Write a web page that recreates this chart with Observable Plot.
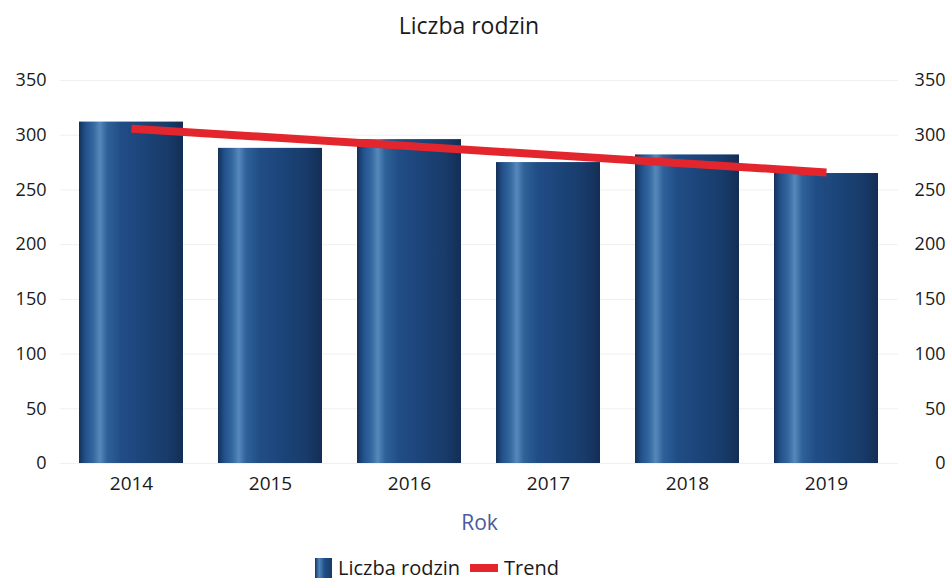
<!DOCTYPE html>
<html>
<head>
<meta charset="utf-8">
<script src="https://cdn.jsdelivr.net/npm/d3@7"></script>
<script src="https://cdn.jsdelivr.net/npm/@observablehq/plot@0.6"></script>
<style>
  html, body { margin: 0; padding: 0; background: #fff; }
  body { width: 950px; height: 582px; overflow: hidden; font-family: "Open Sans", sans-serif; }
  #title { height: 50px; line-height: 50px; text-align: center; font-size: 23px; color: #1a1a1a; margin-left: -12px; }
  #legend { height: 36px; margin-top: 3px; display: flex; justify-content: center; align-items: center; gap: 10px; font-size: 20px; color: #1a1a1a; margin-left: -76px; }
  .sw { display: inline-block; vertical-align: middle; margin-right: 6px; position: relative; top: -1px; }
</style>
</head>
<body>
<div id="title">Liczba rodzin</div>
<div id="chart"></div>
<div id="legend">
  <span><span class="sw" style="width:17px;height:20px;background:linear-gradient(90deg,#163660 0%,#4f86bd 25%,#1f4f86 55%,#183a6a 100%);"></span>Liczba rodzin</span>
  <span><span class="sw" style="width:28px;height:8px;background:#e3262d;"></span>Trend</span>
</div>
<script>
const years = ["2014", "2015", "2016", "2017", "2018", "2019"];
const families = [312, 288, 296, 275, 282, 265];
const trendYears = ["2014", "2019"];
const trendValues = [306, 266];
const yTicks = [0, 50, 100, 150, 200, 250, 300, 350];

const bars = years.map((y, i) => ({year: y, value: families[i]}));
const trend = trendYears.map((y, i) => ({year: y, value: trendValues[i]}));

const chart = Plot.plot({
  width: 950,
  height: 496,
  marginTop: 30,
  marginBottom: 83,
  marginLeft: 60,
  marginRight: 52,
  style: {fontFamily: "Open Sans, sans-serif", fontSize: "18px", color: "#1a1a1a", background: "#fff"},
  x: {domain: years, paddingInner: 0.25, paddingOuter: 0.125, label: null},
  y: {domain: [0, 350], label: null},
  marks: [
    () => {
      const svg = d3.create("svg:defs");
      const g = svg.append("linearGradient").attr("id", "barGrad").attr("x1", "0").attr("x2", "1").attr("y1", "0").attr("y2", "0");
      [[0, "#133058"], [0.06, "#22508a"], [0.14, "#3569a0"], [0.2, "#5688bb"], [0.27, "#2f6299"], [0.4, "#214d86"], [0.6, "#1c457a"], [0.85, "#183b6a"], [1, "#132e55"]]
        .forEach(([o, c]) => g.append("stop").attr("offset", o).attr("stop-color", c));
      return svg.node();
    },
    Plot.gridY(yTicks, {stroke: "#f0f0f0", strokeOpacity: 1}),
    Plot.barY(bars, {x: "year", y: "value", fill: "url(#barGrad)"}),
    Plot.line(trend, {x: "year", y: "value", stroke: "#e3262d", strokeWidth: 8, strokeLinecap: "butt"}),
    Plot.axisY(yTicks, {anchor: "left", tickSize: 0, tickPadding: 14, fontSize: 18, fill: "#1a1a1a"}),
    Plot.axisY(yTicks, {anchor: "right", tickSize: 0, tickPadding: 0, textAnchor: "end", dx: 47, fontSize: 18, fill: "#1a1a1a"}),
    Plot.axisX({tickSize: 0, tickPadding: 13, fontSize: 19, fill: "#1a1a1a", label: null}),
    Plot.text(["Rok"], {frameAnchor: "bottom", dy: 66, fontSize: 21, fill: "#4a5a9c", x: null})
  ]
});
document.getElementById("chart").appendChild(chart);
</script>
</body>
</html>
